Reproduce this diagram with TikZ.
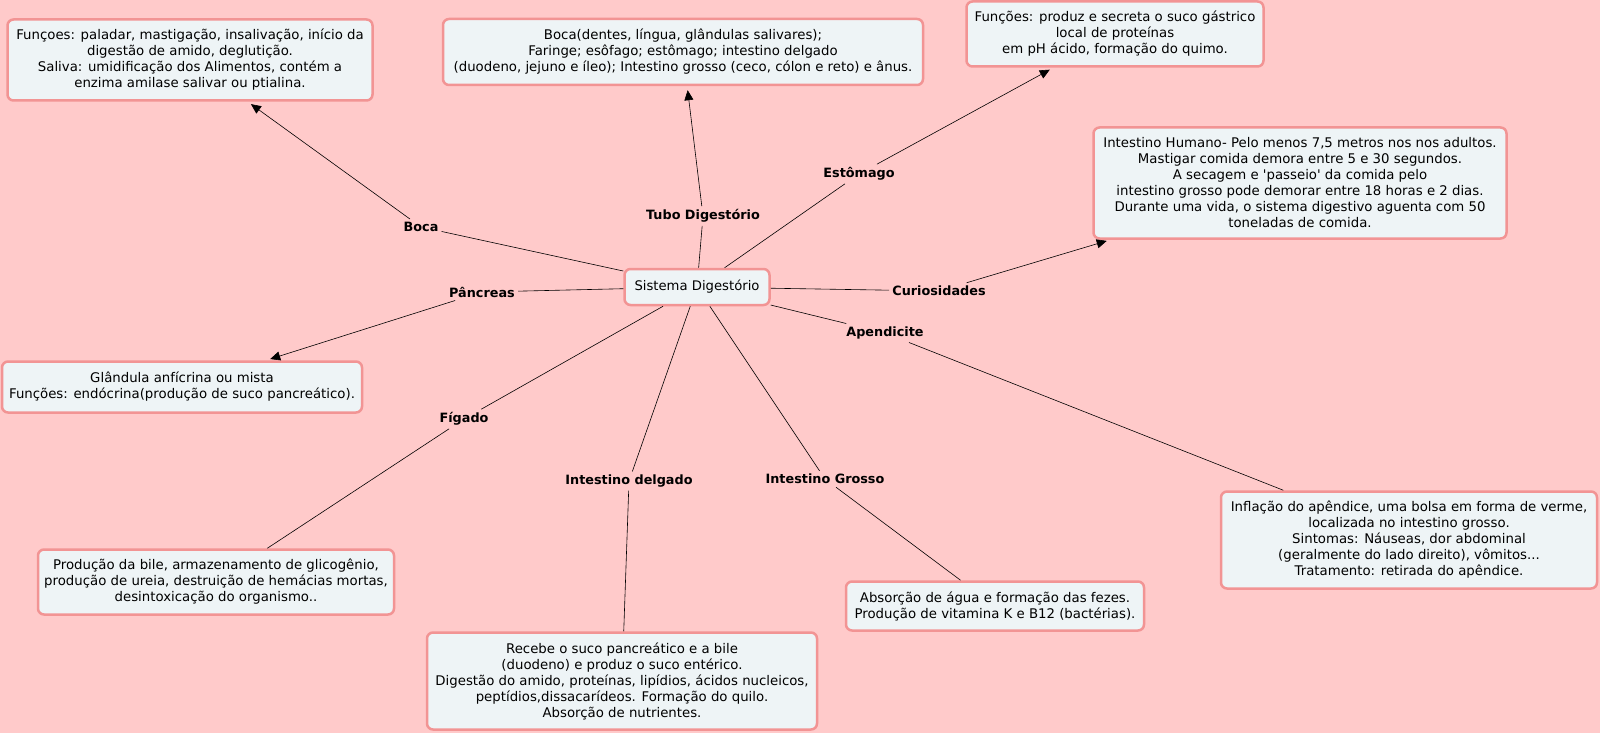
\documentclass[tikz,border=0pt]{standalone}
\usepackage{fontspec}
\setmainfont{DejaVu Sans}
\usetikzlibrary{arrows.meta}

\definecolor{fundo}{HTML}{FFCACA}
\definecolor{caixafundo}{HTML}{EEF4F6}
\definecolor{borda}{HTML}{F29494}

\begin{document}
\begin{tikzpicture}[x=1pt, y=-1pt, >={Triangle[length=10pt,width=9pt]}, semithick]
\tikzstyle{caixa}=[draw=borda, fill=caixafundo, line width=2.5pt, rounded corners=6pt, align=center, inner sep=2pt, font=\fontsize{13.3}{16}\selectfont]
\tikzstyle{rotulo}=[inner sep=3pt, font=\fontsize{12.8}{15}\selectfont\bfseries]
\tikzstyle{seta}=[->, shorten >=4pt]

\fill[fundo] (0,0) rectangle (1600,733);
\useasboundingbox (0,0) rectangle (1600,733);

% conceito central
\node[caixa, minimum width=145pt, minimum height=36pt, font=\fontsize{13.2}{16}\selectfont] (sd) at (697,287) {Sistema Digestório};

% ligacoes
\node[rotulo] (boca) at (421,227) {Boca};
\node[rotulo] (tubo) at (703,216) {Tubo Digestório};
\node[rotulo] (estomago) at (859,174) {Estômago};
\node[rotulo] (curios) at (939,291) {Curiosidades};
\node[rotulo] (pancreas) at (482,292) {Pâncreas};
\node[rotulo] (figado) at (464,419) {Fígado};
\node[rotulo] (delgado) at (629,481) {Intestino delgado};
\node[rotulo] (grosso) at (825,479) {Intestino Grosso};
\node[rotulo] (apendicite) at (885,333) {Apendicite};

% caixas de texto
\node[caixa, minimum width=365pt, minimum height=81pt] (bocabox) at (190,60)
  {Funçoes: paladar, mastigação, insalivação, início da\\ digestão de amido, deglutição.\\ Saliva: umidificação dos Alimentos, contém a\\ enzima amilase salivar ou ptialina.};
\node[caixa, minimum width=480pt, minimum height=66pt] (tubobox) at (683,52)
  {Boca(dentes, língua, glândulas salivares);\\ Faringe; esôfago; estômago; intestino delgado\\ (duodeno, jejuno e íleo); Intestino grosso (ceco, cólon e reto) e ânus.};
\node[caixa, minimum width=297pt, minimum height=65pt] (estomagobox) at (1115,34)
  {Funções: produz e secreta o suco gástrico\\ local de proteínas\\ em pH ácido, formação do quimo.};
\node[caixa, minimum width=413pt, minimum height=111pt] (curiosbox) at (1300,183)
  {Intestino Humano- Pelo menos 7,5 metros nos nos adultos.\\ Mastigar comida demora entre 5 e 30 segundos.\\ A secagem e \textquotesingle passeio\textquotesingle{} da comida pelo\\ intestino grosso pode demorar entre 18 horas e 2 dias.\\ Durante uma vida, o sistema digestivo aguenta com 50\\ toneladas de comida.};
\node[caixa, minimum width=360pt, minimum height=51pt] (pancreasbox) at (182,387)
  {Glândula anfícrina ou mista\\ Funções: endócrina(produção de suco pancreático).};
\node[caixa, minimum width=356pt, minimum height=65pt] (figadobox) at (216,582)
  {Produção da bile, armazenamento de glicogênio,\\ produção de ureia, destruição de hemácias mortas,\\ desintoxicação do organismo..};
\node[caixa, minimum width=390pt, minimum height=97pt] (delgadobox) at (622,681)
  {Recebe o suco pancreático e a bile\\ (duodeno) e produz o suco entérico.\\ Digestão do amido, proteínas, lipídios, ácidos nucleicos,\\ peptídios,dissacarídeos. Formação do quilo.\\ Absorção de nutrientes.};
\node[caixa, minimum width=298pt, minimum height=49pt] (grossobox) at (995,606)
  {Absorção de água e formação das fezes.\\ Produção de vitamina K e B12 (bactérias).};
\node[caixa, minimum width=376pt, minimum height=97pt] (apendbox) at (1409,540)
  {Inflação do apêndice, uma bolsa em forma de verme,\\ localizada no intestino grosso.\\ Sintomas: Náuseas, dor abdominal\\ (geralmente do lado direito), vômitos...\\ Tratamento: retirada do apêndice.};

% do centro para as ligacoes
\foreach \r in {boca, tubo, estomago, curios, pancreas, figado, delgado, grosso, apendicite}
  \draw (sd) -- (\r);

% das ligacoes para as caixas
\draw[seta] (boca) -- (bocabox);
\draw[seta] (tubo) -- (tubobox);
\draw[seta] (estomago) -- (estomagobox);
\draw[seta] (curios) -- (curiosbox);
\draw[seta] (pancreas) -- (pancreasbox);
\draw (figado) -- (figadobox);
\draw (delgado) -- (delgadobox);
\draw (grosso) -- (grossobox);
\draw (apendicite) -- (apendbox);
\end{tikzpicture}
\end{document}
